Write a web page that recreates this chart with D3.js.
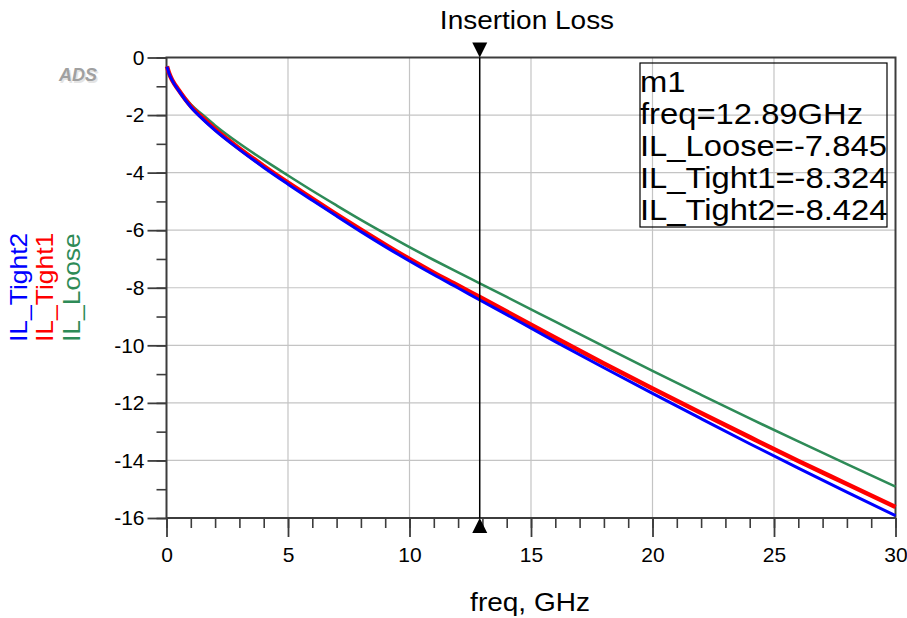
<!DOCTYPE html>
<html>
<head>
<meta charset="utf-8">
<script src="https://cdn.jsdelivr.net/npm/d3@7"></script>
<style>
  body { margin: 0; background: #fff; }
  text { font-family: Arial, "Liberation Sans", sans-serif; }
</style>
</head>
<body>
<svg id="chart" width="907" height="618"></svg>
<script>
// frequency points, GHz
const freq = [0.02, 0.1, 0.25, 0.5, 1, 1.5, 2, 3, 4, 5, 6, 7, 8, 9, 10, 11, 12, 12.89, 14, 16, 18, 20, 22, 24, 26, 28, 30];

// insertion loss, dB
const ilLoose  = [-0.30, -0.52, -0.80, -1.11, -1.63, -2.00, -2.36, -2.99, -3.56, -4.10, -4.63, -5.14, -5.64, -6.12, -6.59, -7.035, -7.465, -7.845, -8.32, -9.18, -10.04, -10.89, -11.72, -12.54, -13.34, -14.13, -14.91];
const ilTight1 = [-0.31, -0.53, -0.81, -1.13, -1.69, -2.11, -2.49, -3.16, -3.77, -4.35, -4.90, -5.45, -5.98, -6.50, -7.00, -7.475, -7.92, -8.324, -8.825, -9.74, -10.63, -11.50, -12.35, -13.19, -14.02, -14.82, -15.62];
const ilTight2 = [-0.32, -0.55, -0.82, -1.15, -1.72, -2.15, -2.53, -3.20, -3.82, -4.40, -4.96, -5.51, -6.05, -6.57, -7.07, -7.55, -8.01, -8.424, -8.935, -9.87, -10.78, -11.67, -12.55, -13.42, -14.27, -15.10, -15.92];

const xMajor = [0, 5, 10, 15, 20, 25, 30];
const xMinor = d3.range(0, 31, 1);
const yMajor = [0, -2, -4, -6, -8, -10, -12, -14, -16];
const yMinor = d3.range(-16, 1, 1);

const markerFreq = 12.89;
const markerLines = ["m1", "freq=12.89GHz", "IL_Loose=-7.845", "IL_Tight1=-8.324", "IL_Tight2=-8.424"];

const series = [
  { name: "IL_Loose",  values: ilLoose,  color: "#2e8b57", width: 2.6 },
  { name: "IL_Tight1", values: ilTight1, color: "#ff0000", width: 4.5 },
  { name: "IL_Tight2", values: ilTight2, color: "#0000ff", width: 3 }
];

const svg = d3.select("#chart");
const x = d3.scaleLinear().domain([0, 30]).range([166.5, 895.5]);
const y = d3.scaleLinear().domain([-16, 0]).range([518, 57.5]);
const axisColor = "#3c3c3c";
const fontFam = "Arial, 'Liberation Sans', sans-serif";

// grid
svg.append("g").selectAll("line")
  .data(xMajor.slice(1, -1)).join("line")
  .attr("x1", d => x(d)).attr("x2", d => x(d))
  .attr("y1", y(0)).attr("y2", y(-16))
  .attr("stroke", "#c4c4c4").attr("stroke-width", 1.2);
svg.append("g").selectAll("line")
  .data(yMajor.slice(1, -1)).join("line")
  .attr("x1", x(0)).attr("x2", x(30))
  .attr("y1", d => y(d)).attr("y2", d => y(d))
  .attr("stroke", "#c4c4c4").attr("stroke-width", 1.2);

// minor ticks
svg.append("g")
  .attr("transform", `translate(0,${y(-16)})`)
  .call(d3.axisBottom(x).tickValues(xMinor).tickSize(10).tickFormat(""))
  .call(g => g.select(".domain").remove())
  .call(g => g.selectAll("line").attr("stroke", axisColor).attr("stroke-width", 1.6));
svg.append("g")
  .attr("transform", `translate(${x(0)},0)`)
  .call(d3.axisLeft(y).tickValues(yMinor).tickSize(10).tickFormat(""))
  .call(g => g.select(".domain").remove())
  .call(g => g.selectAll("line").attr("stroke", axisColor).attr("stroke-width", 1.6));

// major ticks and labels
svg.append("g")
  .attr("transform", `translate(0,${y(-16)})`)
  .call(d3.axisBottom(x).tickValues(xMajor).tickSize(19).tickPadding(10).tickFormat(d => String(d)))
  .call(g => g.select(".domain").remove())
  .call(g => g.selectAll("line").attr("stroke", axisColor).attr("stroke-width", 1.8))
  .call(g => g.selectAll("text").attr("fill", "#000").style("font-size", "21px").style("font-family", fontFam));
svg.append("g")
  .attr("transform", `translate(${x(0)},0)`)
  .call(d3.axisLeft(y).tickValues(yMajor).tickSize(19).tickPadding(3).tickFormat(d => String(d)))
  .call(g => g.select(".domain").remove())
  .call(g => g.selectAll("line").attr("stroke", axisColor).attr("stroke-width", 1.8))
  .call(g => g.selectAll("text").attr("fill", "#000").style("font-size", "21px").style("font-family", fontFam));

// frame
svg.append("rect")
  .attr("x", x(0)).attr("y", y(0))
  .attr("width", x(30) - x(0)).attr("height", y(-16) - y(0))
  .attr("fill", "none").attr("stroke", axisColor).attr("stroke-width", 2);

// curves
const line = d3.line().curve(d3.curveMonotoneX);
svg.append("g").selectAll("path")
  .data(series).join("path")
  .attr("d", s => line(freq.map((f, i) => [x(f), y(s.values[i])])))
  .attr("fill", "none")
  .attr("stroke", s => s.color)
  .attr("stroke-width", s => s.width)
  .attr("stroke-linejoin", "round");

// marker
const mx = x(markerFreq);
svg.append("line")
  .attr("x1", mx).attr("x2", mx).attr("y1", y(0)).attr("y2", y(-16))
  .attr("stroke", "#000").attr("stroke-width", 1.5);
svg.append("path")
  .attr("d", `M${mx - 7.5},${y(0) - 15} L${mx + 7.5},${y(0) - 15} L${mx},${y(0)} Z`)
  .attr("fill", "#000");
svg.append("path")
  .attr("d", `M${mx - 7.5},${y(-16) + 15} L${mx + 7.5},${y(-16) + 15} L${mx},${y(-16)} Z`)
  .attr("fill", "#000");

// marker readout box
const box = svg.append("g").attr("transform", "translate(640,63)");
box.append("rect")
  .attr("width", 247).attr("height", 164)
  .attr("fill", "none").attr("stroke", "#000").attr("stroke-width", 1.2);
box.selectAll("text")
  .data(markerLines).join("text")
  .attr("transform", (d, i) => `translate(0,${29 + i * 32}) scale(1.13,1)`)
  .attr("font-size", 29)
  .attr("fill", "#000")
  .text(d => d);

// title + axis label
svg.append("text")
  .attr("transform", "translate(527,29) scale(1.12,1)")
  .attr("text-anchor", "middle").attr("font-size", 25)
  .text("Insertion Loss");
svg.append("text")
  .attr("transform", "translate(530,611) scale(1.12,1)")
  .attr("text-anchor", "middle").attr("font-size", 25)
  .text("freq, GHz");

// rotated series labels
const legendX = [80, 53, 27];
svg.append("g").selectAll("text")
  .data(series).join("text")
  .attr("transform", (s, i) => `translate(${legendX[i]},342) rotate(-90) scale(1.15,1)`)
  .attr("font-size", 23)
  .attr("fill", s => s.color)
  .text(s => s.name);

// ADS logo
svg.append("text")
  .attr("x", 78).attr("y", 81)
  .attr("text-anchor", "middle")
  .attr("font-size", 18).attr("font-weight", "bold").attr("font-style", "italic")
  .attr("fill", "#e4e4e4")
  .attr("transform", "translate(1.5,1.5)")
  .text("ADS");
svg.append("text")
  .attr("x", 78).attr("y", 81)
  .attr("text-anchor", "middle")
  .attr("font-size", 18).attr("font-weight", "bold").attr("font-style", "italic")
  .attr("fill", "#a0a0a0")
  .text("ADS");
</script>
</body>
</html>
